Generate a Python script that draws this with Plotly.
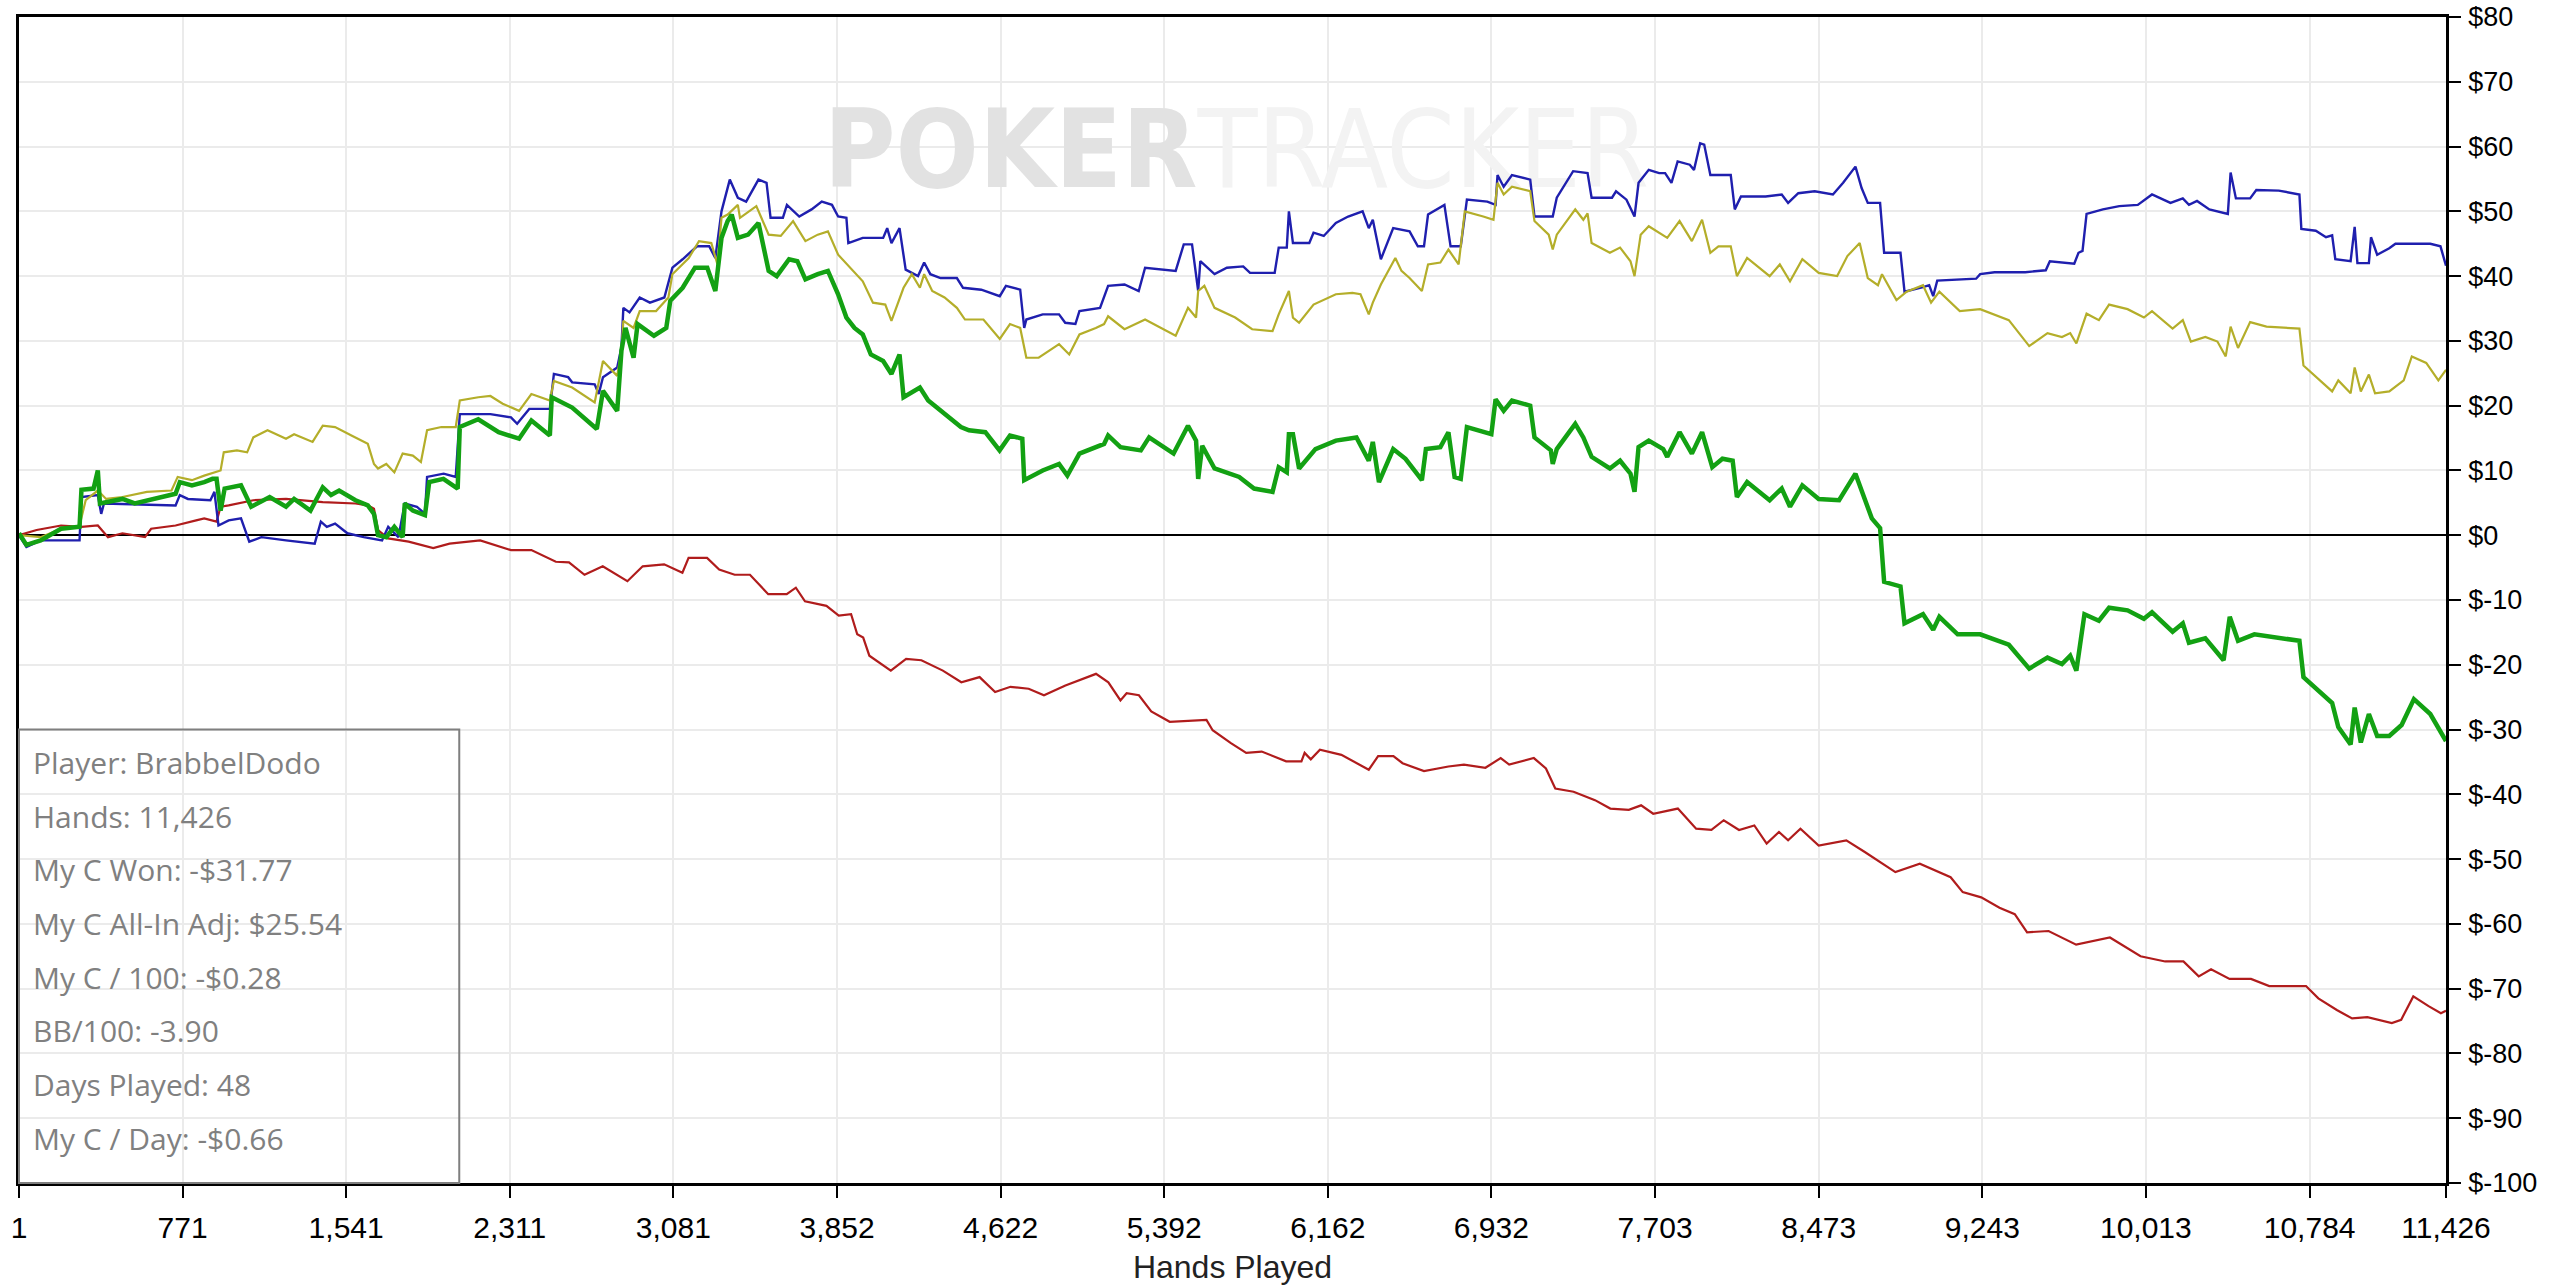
import plotly.graph_objects as go

# hands played (x) and cumulative winnings in $ (y) for each line
hands_won = [1, 36, 103, 199, 286, 295, 352, 372, 382, 488, 546, 738, 758, 815, 873, 912, 931, 950, 969, 1046,
             1094, 1181, 1258, 1296, 1373, 1431, 1470, 1508, 1585, 1643, 1672, 1691, 1730, 1768, 1807, 1817, 1855,
             1912, 1932, 1999, 2066, 2076, 2163, 2259, 2355, 2413, 2500, 2509, 2605, 2721, 2750, 2817, 2837, 2856,
             2894, 2913, 2990, 3048, 3067, 3125, 3183, 3241, 3279, 3308, 3337, 3356, 3385, 3433, 3482, 3530, 3568,
             3626, 3665, 3703, 3761, 3809, 3857, 3896, 3934, 3973, 4011, 4069, 4108, 4146, 4165, 4242, 4281, 4358,
             4435, 4473, 4550, 4617, 4666, 4724, 4733, 4820, 4897, 4936, 4993, 5109, 5128, 5186, 5282, 5321, 5436,
             5504, 5542, 5552, 5571, 5629, 5745, 5815, 5902, 5931, 5969, 5979, 5998, 6027, 6104, 6200, 6297, 6355,
             6374, 6403, 6470, 6528, 6605, 6624, 6692, 6730, 6759, 6788, 6817, 6932, 6952, 6990, 7029, 7115, 7135,
             7212, 7221, 7240, 7327, 7365, 7404, 7490, 7538, 7587, 7606, 7625, 7673, 7741, 7760, 7818, 7876, 7924,
             7972, 8020, 8068, 8088, 8136, 8242, 8299, 8338, 8396, 8473, 8569, 8646, 8685, 8723, 8762, 8781, 8858,
             8877, 8964, 9012, 9041, 9127, 9233, 9368, 9464, 9550, 9618, 9657, 9686, 9724, 9792, 9840, 9927, 10004,
             10042, 10139, 10187, 10216, 10293, 10379, 10408, 10447, 10524, 10736, 10755, 10890, 10919, 10977, 10996,
             11025, 11063, 11102, 11159, 11217, 11275, 11352, 11426]
my_c_won = [0.3, -1.5, -0.8, 1.0, 1.3, 7.0, 7.2, 10.0, 4.9, 5.6, 4.9, 6.4, 8.2, 7.7, 8.2, 8.7, 8.7, 3.8, 7.2, 7.7,
            4.4, 5.9, 4.4, 5.6, 3.8, 7.4, 6.2, 6.9, 5.4, 4.6, 3.3, 0.0, -0.3, 1.3, -0.3, 4.9, 3.8,
            3.1, 8.2, 8.7, 7.2, 16.7, 17.9, 15.9, 14.9, 17.7, 15.4, 21.3, 19.7, 16.4, 22.3, 19.2, 28.5, 32.0,
            27.4, 32.6, 30.8, 32.0, 36.2, 38.2, 41.3, 41.3, 37.7, 45.9, 48.5, 49.5, 45.9, 46.4, 48.2, 40.8, 40.0,
            42.6, 42.3, 39.5, 40.3, 40.8, 37.2, 33.6, 32.0, 31.0, 27.9, 26.9, 24.9, 27.9, 21.3, 22.8, 20.8, 18.7,
            16.7, 16.2, 15.9, 13.1, 15.4, 14.9, 8.5, 10.0, 11.0, 9.2, 12.6, 14.1, 15.4, 13.6, 13.1, 15.1, 12.6,
            16.9, 14.6, 8.7, 13.8, 10.3, 9.0, 7.2, 6.7, 10.5, 9.7, 15.6, 15.6, 10.3, 13.3, 14.6, 15.1, 11.5,
            14.4, 8.2, 13.3, 11.8, 8.5, 13.3, 13.6, 15.9, 9.0, 8.7, 16.7, 15.6, 21.0, 19.2, 20.8, 20.0, 15.1,
            13.1, 11.0, 13.3, 17.2, 15.1, 12.1, 10.3, 11.5, 9.5, 6.7, 13.6, 14.6, 13.3, 12.1, 15.9, 12.6, 15.9,
            10.5, 11.8, 11.5, 5.9, 8.2, 5.4, 7.2, 4.4, 7.7, 5.6, 5.4, 9.5, 5.9, 2.6, 1.1, -7.2, -7.9,
            -13.6, -12.2, -14.6, -12.6, -15.3, -15.3, -16.9, -20.6, -18.9, -19.9, -18.6, -20.9, -12.2, -13.2, -11.2, -11.6, -12.9,
            -11.9, -14.9, -13.6, -16.6, -15.9, -19.3, -12.6, -16.3, -15.3, -16.3, -21.9, -25.9, -29.6, -32.3, -26.6,
            -32.0, -27.6, -31.0, -31.0, -29.3, -25.3, -27.6, -31.77]

hands_showdown = [1, 36, 103, 286, 295, 372, 388, 401, 738, 758, 796, 902, 921, 940, 988, 1046, 1085, 1142, 1258,
                  1393, 1422, 1450, 1489, 1547, 1624, 1710, 1739, 1787, 1817, 1874, 1912, 1922, 2000, 2057, 2076,
                  2220, 2317, 2346, 2403, 2500, 2519, 2586, 2605, 2711, 2730, 2750, 2817, 2837, 2846, 2875, 2923,
                  2971, 3039, 3077, 3125, 3193, 3250, 3279, 3308, 3347, 3385, 3424, 3482, 3520, 3539, 3597, 3616,
                  3674, 3732, 3780, 3828, 3857, 3896, 3905, 3973, 4069, 4088, 4108, 4146, 4175, 4233, 4262, 4291,
                  4339, 4416, 4445, 4531, 4618, 4647, 4714, 4733, 4743, 4820, 4897, 4926, 4974, 4993, 5090, 5128,
                  5205, 5272, 5302, 5446, 5484, 5523, 5552, 5562, 5629, 5687, 5764, 5796, 5912, 5931, 5969, 5979,
                  5998, 6075, 6095, 6143, 6200, 6258, 6326, 6355, 6374, 6412, 6470, 6547, 6586, 6615, 6634, 6711,
                  6740, 6788, 6817, 6913, 6952, 6961, 6990, 7029, 7115, 7135, 7221, 7240, 7317, 7385, 7404, 7500,
                  7519, 7568, 7606, 7625, 7673, 7722, 7750, 7780, 7809, 7866, 7886, 7915, 7934, 7963, 8059, 8078,
                  8107, 8223, 8299, 8329, 8377, 8454, 8540, 8588, 8646, 8675, 8704, 8762, 8781, 8858, 8877, 8964,
                  8993, 9012, 9031, 9214, 9233, 9301, 9445, 9542, 9561, 9676, 9696, 9715, 9734, 9811, 9888, 9975,
                  10042, 10129, 10187, 10216, 10254, 10312, 10399, 10412, 10437, 10504, 10533, 10639, 10736, 10745,
                  10813, 10861, 10890, 10905, 10977, 10996, 11009, 11063, 11073, 11102, 11159, 11188, 11352, 11400,
                  11426]
showdown_won = [0.0, -1.8, -0.8, -0.8, 5.9, 6.2, 3.3, 4.9, 4.6, 6.2, 5.6, 5.4, 6.7, 1.5, 2.3, 2.6, -1.0, -0.3, -0.8,
                -1.3, 2.1, 1.3, 1.8, 0.3, -0.3, -0.8, 1.3, -0.3, 4.9, 4.4, 3.3, 9.0, 9.5, 9.0, 18.7,
                18.7, 18.2, 17.2, 19.5, 19.5, 24.9, 24.4, 23.6, 23.3, 21.8, 24.4, 25.9, 29.0, 35.1, 34.4, 36.7,
                35.9, 36.7, 41.3, 42.6, 44.6, 44.6, 42.8, 50.0, 54.9, 52.1, 51.5, 54.9, 54.4, 49.0, 49.0, 51.0,
                49.2, 50.3, 51.5, 51.0, 49.2, 49.0, 45.1, 45.9, 45.9, 47.4, 45.1, 47.4, 41.0, 40.0, 42.1, 40.3,
                39.7, 39.7, 38.2, 37.9, 36.9, 38.5, 37.9, 32.0, 33.3, 34.1, 34.1, 32.8, 32.6, 34.6, 35.1, 38.5,
                38.7, 37.7, 41.3, 40.8, 44.9, 44.9, 37.7, 42.3, 40.3, 41.3, 41.5, 40.5, 40.5, 44.4, 44.4, 50.0,
                45.1, 45.1, 46.7, 46.2, 48.2, 49.2, 50.0, 47.4, 48.7, 42.6, 47.4, 46.9, 44.6, 44.6, 49.5, 51.0,
                44.6, 44.6, 51.8, 51.5, 51.0, 55.6, 53.8, 55.6, 54.9, 49.2, 49.2, 52.1, 56.2, 55.9, 52.1, 52.1,
                53.1, 51.8, 49.2, 54.4, 56.4, 55.9, 55.9, 54.4, 57.7, 57.2, 56.4, 60.5, 60.3, 55.6, 55.6, 50.3,
                52.3, 52.3, 52.6, 51.3, 52.8, 53.1, 52.6, 54.4, 56.9, 53.6, 51.3, 51.3, 43.6, 43.6, 37.6, 38.3,
                38.6, 36.9, 39.3, 39.6, 40.3, 40.6, 40.6, 40.9, 42.3, 41.9, 43.6, 43.9, 49.6, 50.3, 50.8, 51.0,
                52.6, 51.3, 52.0, 51.0, 51.6, 50.3, 49.6, 56.0, 52.0, 52.0, 53.3, 53.2, 52.6, 47.3,
                47.0, 46.0, 46.3, 42.6, 42.3, 47.6, 42.0, 42.0, 46.0, 43.3, 44.3, 45.0, 45.0, 44.6,
                41.6]

hands_allin = [1, 103, 199, 286, 315, 372, 411, 488, 603, 719, 748, 815, 873, 950, 965, 1027, 1075, 1104, 1171, 1258,
               1296, 1383, 1431, 1489, 1566, 1643, 1672, 1691, 1730, 1768, 1807, 1855, 1893, 1922, 1989, 2057, 2076,
               2163, 2220, 2278, 2355, 2413, 2500, 2519, 2605, 2711, 2750, 2817, 2837, 2846, 2894, 2923, 3000, 3058,
               3077, 3154, 3202, 3260, 3289, 3308, 3337, 3385, 3395, 3472, 3530, 3587, 3645, 3703, 3761, 3809, 3857,
               3915, 3973, 4021, 4079, 4108, 4165, 4204, 4242, 4262, 4300, 4358, 4416, 4454, 4541, 4618, 4666, 4714,
               4743, 4801, 4897, 4945, 4993, 5070, 5109, 5128, 5205, 5302, 5446, 5504, 5542, 5552, 5581, 5629, 5726,
               5806, 5902, 5931, 5979, 5998, 6027, 6095, 6200, 6278, 6316, 6355, 6374, 6412, 6480, 6509, 6547, 6605,
               6634, 6692, 6730, 6778, 6807, 6894, 6942, 6961, 6990, 7029, 7115, 7135, 7202, 7221, 7240, 7327, 7365,
               7385, 7404, 7490, 7538, 7587, 7606, 7635, 7673, 7760, 7818, 7876, 7924, 7963, 8001, 8059, 8088, 8136,
               8242, 8290, 8338, 8396, 8473, 8560, 8608, 8666, 8704, 8752, 8771, 8839, 8887, 8964, 9002, 9041, 9137,
               9233, 9291, 9368, 9464, 9550, 9618, 9657, 9686, 9734, 9792, 9840, 9927, 10004, 10042, 10139, 10187,
               10225, 10293, 10350, 10389, 10412, 10447, 10504, 10581, 10736, 10755, 10890, 10919, 10977, 10996,
               11025, 11063, 11092, 11159, 11227, 11265, 11333, 11390, 11426]
allin_adj = [0.0, -0.3, 1.0, 1.5, 5.4, 6.9, 5.6, 5.9, 6.7, 6.9, 9.0, 8.5, 9.2, 10.0, 12.8, 13.1, 12.8, 15.1, 16.2, 14.9,
             15.6, 14.4, 16.9, 16.7, 15.4, 14.1, 11.0, 10.3, 11.0, 9.7, 12.6, 12.3, 11.3, 16.2, 16.7, 16.7, 20.8,
             21.3, 21.5, 20.3, 19.2, 21.8, 20.8, 23.8, 22.8, 20.5, 26.9, 24.6, 28.5, 33.1, 32.0, 34.6, 34.6, 36.7,
             40.3, 42.8, 45.4, 45.1, 41.8, 49.0, 49.5, 51.0, 49.0, 50.8, 46.4, 46.2, 48.5, 45.4, 46.4, 46.9, 43.3,
             41.3, 39.2, 35.9, 35.6, 33.1, 38.2, 40.3, 38.2, 40.3, 37.7, 36.7, 35.1, 33.3, 33.3, 30.3, 32.6, 32.0,
             27.4, 27.4, 29.5, 27.9, 31.0, 32.0, 32.6, 33.8, 31.8, 33.3, 30.8, 35.1, 33.6, 37.7, 38.5, 35.1, 33.6,
             31.8, 31.5, 34.1, 37.7, 33.6, 32.8, 35.6, 37.2, 37.4, 37.2, 34.1, 35.9, 38.7, 42.8, 40.8, 39.7, 37.7,
             41.8, 42.1, 44.1, 41.8, 50.0, 49.2, 48.7, 54.4, 52.6, 53.8, 53.1, 48.5, 46.4, 44.1, 46.4, 50.3, 48.7,
             49.7, 45.1, 43.6, 44.4, 42.3, 40.0, 46.4, 47.7, 45.9, 48.5, 45.4, 48.7, 43.6, 44.6, 44.6, 40.0, 42.8,
             40.0, 41.8, 39.2, 42.6, 40.5, 40.0, 43.1, 45.1, 39.7, 38.6, 40.3, 36.3, 37.6, 38.6, 35.9, 37.6, 34.6,
             34.9, 34.2, 33.2, 29.2, 31.2, 30.6, 31.2, 29.6, 34.2, 33.2, 35.6, 34.9, 33.6, 34.6, 31.9, 33.2,
             29.9, 30.6, 29.9, 27.6, 32.2, 28.9, 32.9, 32.2, 31.9, 26.2, 22.2, 23.9, 21.9, 25.9,
             22.2, 24.8, 21.9, 22.2, 23.9, 27.6, 26.6, 23.9, 25.54]

hands_nonsd = [1, 84, 199, 295, 372, 420, 488, 594, 623, 738, 835, 873, 931, 950, 988, 1104, 1258, 1431, 1585, 1643,
               1672, 1691, 1739, 1835, 1951, 2028, 2172, 2317, 2413, 2528, 2590, 2663, 2749, 2865, 2937, 3038, 3124,
               3153, 3240, 3297, 3370, 3442, 3528, 3615, 3658, 3701, 3802, 3860, 3918, 3947, 3975, 4004, 4105, 4177,
               4249, 4350, 4437, 4523, 4596, 4668, 4754, 4826, 4927, 5014, 5071, 5129, 5186, 5215, 5273, 5331, 5418,
               5591, 5620, 5706, 5778, 5851, 5966, 6038, 6053, 6082, 6125, 6226, 6355, 6399, 6471, 6514, 6615, 6730,
               6803, 6904, 6976, 7016, 7132, 7189, 7233, 7319, 7377, 7420, 7492, 7579, 7637, 7694, 7810, 7896, 7968,
               8026, 8098, 8170, 8228, 8286, 8329, 8387, 8473, 8603, 8690, 8834, 8949, 9094, 9151, 9238, 9324, 9396,
               9454, 9555, 9685, 9844, 9988, 10104, 10190, 10262, 10320, 10407, 10508, 10594, 10767, 10825, 10912,
               10984, 11056, 11171, 11215, 11272, 11344, 11402, 11426]
nonsd_won = [0.0, 0.8, 1.5, 1.3, 1.5, -0.3, 0.3, -0.3, 1.0, 1.5, 2.3, 2.6, 2.1, 4.4, 4.6, 5.4, 5.6, 5.1, 4.9, 4.6,
             4.1, 0.8, -0.5, -1.0, -2.0, -1.3, -0.8, -2.3, -2.3, -4.1, -4.2, -6.1, -4.8, -7.1, -4.8, -4.5, -5.8,
             -3.5, -3.5, -5.3, -6.1, -6.1, -9.1, -9.1, -8.1, -10.2, -10.9, -12.4, -12.2, -15.3, -15.8, -18.6, -20.9, -19.1,
             -19.3, -20.9, -22.7, -21.9, -24.2, -23.4, -23.7, -24.7, -23.2, -22.1, -21.4, -22.7, -25.5, -24.4, -24.7, -27.2, -28.8,
             -28.5, -30.1, -32.1, -33.6, -33.4, -34.9, -34.9, -33.6, -34.6, -33.1, -33.9, -36.2, -34.1, -34.1, -35.2, -36.4, -35.7,
             -35.4, -35.9, -34.4, -35.4, -34.4, -36.0, -39.1, -39.6, -40.4, -40.9, -42.2, -42.4, -41.7, -43.0, -42.2, -45.3, -45.5,
             -44.0, -45.5, -44.8, -47.6, -45.8, -47.1, -45.3, -47.9, -47.1, -48.9, -52.0, -50.7, -52.8, -55.1, -55.9, -57.5, -58.5,
             -61.3, -61.1, -63.2, -62.1, -65.0, -65.8, -65.8, -68.1, -67.0, -68.5, -68.5, -69.6, -69.6, -71.5, -73.3,
             -74.6, -74.4, -75.3, -74.8, -71.2, -72.7, -73.8, -73.4]

x_tick_vals = [1, 771, 1541, 2311, 3081, 3852, 4622, 5392, 6162, 6932, 7703, 8473, 9243, 10013, 10784, 11426]
y_tick_vals = list(range(-100, 81, 10))
y_tick_text = ["$%d" % v for v in y_tick_vals]

info_lines = ["Player: BrabbelDodo", "Hands: 11,426", "My C Won: -$31.77", "My C All-In Adj: $25.54",
              "My C / 100: -$0.28", "BB/100: -3.90", "Days Played: 48", "My C / Day: -$0.66"]

X_MIN, X_MAX = 1, 11426
Y_MIN, Y_MAX = -100, 80

fig = go.Figure()

# watermark goes in first so the lines draw over it
fig.add_trace(go.Scatter(x=[X_MIN + 0.5016 * (X_MAX - X_MIN)], y=[Y_MIN + 0.878 * (Y_MAX - Y_MIN)],
                         mode="text", text=["<b>POKER</b><span style='color:#f3f3f3'>TRACKER</span>"],
                         textfont=dict(family="DejaVu Sans Condensed, sans-serif", size=109, color="#e2e2e2"),
                         textposition="middle center", hoverinfo="skip"))

fig.add_trace(go.Scatter(x=hands_nonsd, y=nonsd_won, mode="lines", line=dict(color="#b01c1c", width=2.2), name="Non-showdown"))
fig.add_trace(go.Scatter(x=hands_showdown, y=showdown_won, mode="lines", line=dict(color="#1f1fae", width=2.4), name="Showdown"))
fig.add_trace(go.Scatter(x=hands_allin, y=allin_adj, mode="lines", line=dict(color="#b4ae2a", width=2.2), name="All-In Adj"))
fig.add_trace(go.Scatter(x=hands_won, y=my_c_won, mode="lines", line=dict(color="#13a113", width=4.5), name="Won"))

# stats box in the lower left corner
fig.add_shape(type="rect", xref="paper", yref="paper", x0=0, x1=0.1814, y0=0, y1=0.3889,
              line=dict(color="#7f7f7f", width=2), fillcolor="rgba(0,0,0,0)", layer="above")
for i, txt in enumerate(info_lines):
    fig.add_annotation(text=txt, xref="paper", yref="paper", x=0.005, y=0.3605 - i * 0.046,
                       xanchor="left", yanchor="middle", showarrow=False,
                       font=dict(family="Open Sans", size=30, color="#808080"))

fig.update_xaxes(range=[X_MIN, X_MAX], tickvals=x_tick_vals, tickformat=",d",
                 tickfont=dict(family="Liberation Sans", size=30, color="black"),
                 ticks="outside", ticklen=12, tickwidth=2, tickcolor="black", ticklabelstandoff=4,
                 ticklabeloverflow="allow",
                 showgrid=True, gridcolor="#ebebeb", gridwidth=2, zeroline=False, automargin=False,
                 showline=True, linecolor="black", linewidth=2.5, mirror=True,
                 title=dict(text="Hands Played", font=dict(family="Liberation Sans", size=32, color="#222222"),
                            standoff=13))
fig.update_yaxes(range=[Y_MIN, Y_MAX], side="right", tickvals=y_tick_vals, ticktext=y_tick_text,
                 tickfont=dict(family="Liberation Sans", size=27, color="black"),
                 ticks="outside", ticklen=12, tickwidth=2, tickcolor="black", ticklabelstandoff=2,
                 ticklabeloverflow="allow",
                 showgrid=True, gridcolor="#ebebeb", gridwidth=2, automargin=False,
                 zeroline=True, zerolinecolor="black", zerolinewidth=2,
                 showline=True, linecolor="black", linewidth=2.5, mirror=True)

fig.update_layout(width=2560, height=1287, showlegend=False,
                  margin=dict(l=19, r=114, t=17, b=104),
                  plot_bgcolor="white", paper_bgcolor="white")

# drop the default 8px body margin so the "$80" label at the very top is not clipped
fig.write_html("out.html", config={"displayModeBar": False},
               post_script="document.body.style.margin = '0';")
